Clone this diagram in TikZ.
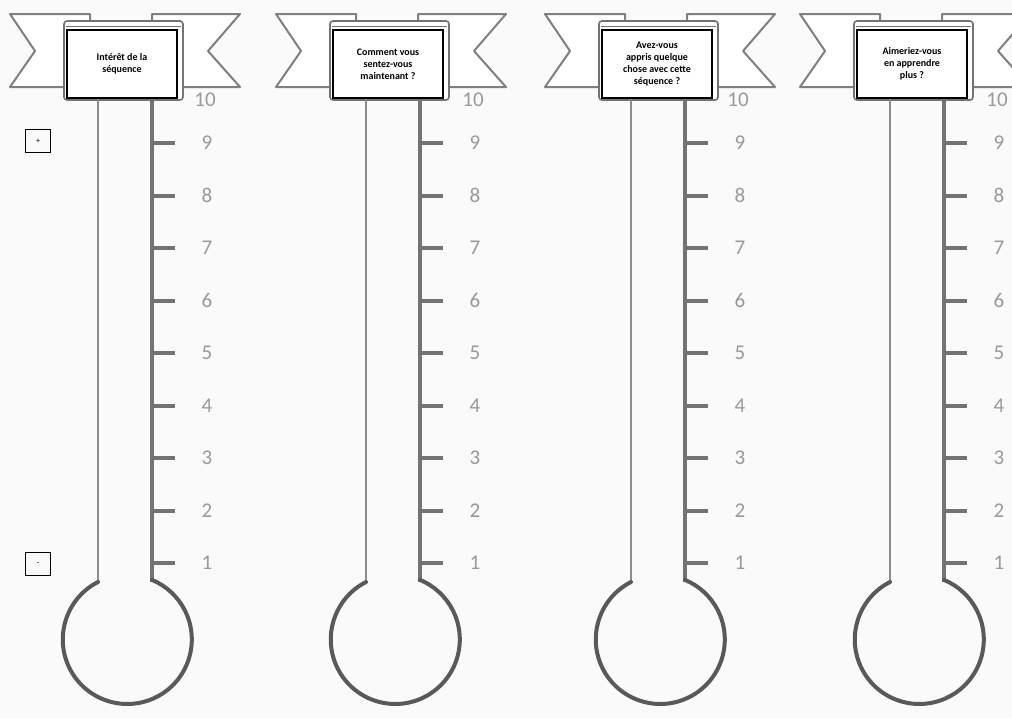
\documentclass[tikz,border=0pt]{standalone}
\usepackage{fontspec}
\setmainfont{Carlito}
\usetikzlibrary{positioning}
\newcommand\qfont{\fontsize{10}{12}\selectfont\bfseries}
\newcommand\nfont{\fontsize{21}{21}\selectfont}

\begin{document}
\begin{tikzpicture}[x=1pt,y=-1pt]%
        \useasboundingbox (0,0) rectangle (1012,718); %%
        \clip (0,0) rectangle (1012,718); %%
        \fill[black!2] (0,0) rectangle (1012,718); %%
        \tikzstyle{ribbon}=[draw=black!50,line width=2pt,fill=white,line join=round] %%
        \tikzstyle{fold}=[draw=black!55,line width=1.6pt,fill=white,rounded corners=3pt] %%
        \tikzstyle{question}=[draw,line width=1.6pt,fill=white,minimum width=110pt,minimum height=68pt,align=center,font=\qfont] %%
        \tikzstyle{grade}=[text=black!40,font=\nfont,inner sep=0pt] %%
        \tikzstyle{sign}=[draw,line width=1pt,minimum width=25pt,minimum height=23pt,inner sep=0pt,font=\footnotesize] %%
        \foreach \cx/\bx/\nm/\txt in {125/122/a/{Intérêt de la\\séquence},
                393/388/b/{Comment vous\\sentez-vous\\maintenant ?},
                658/657/c/{Avez-vous\\appris quelque\\chose avec cette\\séquence ?},
                917/912/d/{Aimeriez-vous\\en apprendre\\plus ?}}{%
        % banner
        \draw[ribbon] (\bx-112,14) -- (\bx-32,14) -- (\bx-32,87) -- (\bx-112,87) -- (\bx-87,51) -- cycle; %%
        \draw[ribbon] (\bx+118,14) -- (\bx+30,14) -- (\bx+30,87) -- (\bx+118,87) -- (\bx+86,51) -- cycle; %%
        \draw[fold] (\bx-58,21) rectangle (\bx+61,100); %%
        \draw[black!55,line width=1pt] (\bx-56,26) -- (\bx+59,26); %%
        \node[question] (q\nm) at (\bx,64) {\txt}; %%
        % tube and bulb
        \draw[black!45,line width=2pt] (\cx-27,99) -- (\cx-27,582); %%
        \draw[black!55,line width=4pt] (\cx+27,99) -- (\cx+27,582); %%
        \draw[black!65,line width=4pt,line cap=round] (\cx-27,582) arc[start angle=-117,end angle=-427.5,radius=64.5]; %%
        % scale
        \node[grade] (n\nm10) at (\cx+80,100) {10}; %%
        \foreach \k in {1,...,9}{%
                \draw[black!55,line width=4pt] (\cx+27,143+52.5*9-52.5*\k) -- (\cx+50,143+52.5*9-52.5*\k); %%
                \node[grade] (n\nm\k) at (\cx+82,143+52.5*9-52.5*\k) {\k}; %%
        }%
        }%
        \node[sign] (plus) at (38,141) {+}; %%
        \node[sign] (minus) at (38,564) {-}; %%
\end{tikzpicture}
\end{document}
